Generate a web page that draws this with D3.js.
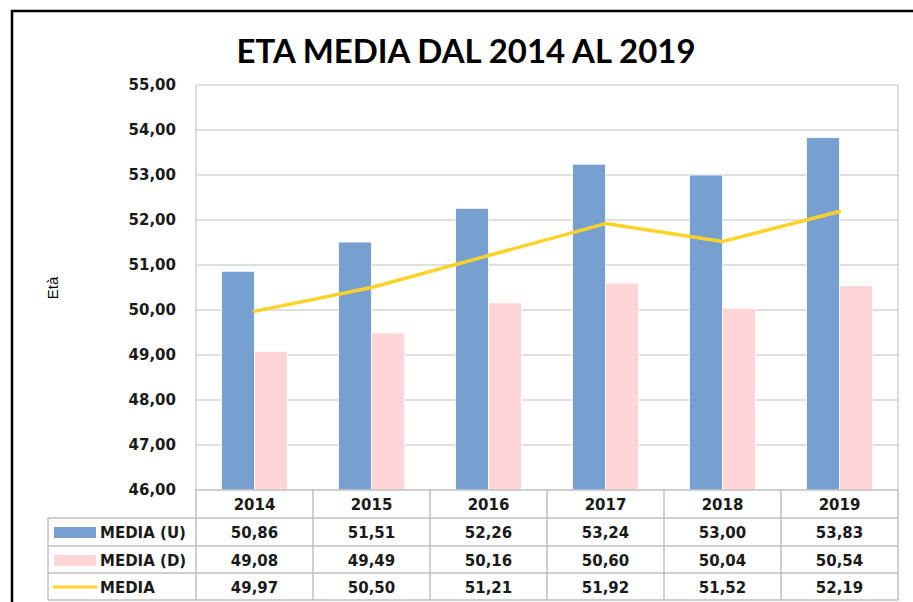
<!DOCTYPE html>
<html><head><meta charset="utf-8">
<script src="https://cdn.jsdelivr.net/npm/d3@7"></script>
<style>html,body{margin:0;padding:0;background:#fff;overflow:hidden}</style>
</head><body>
<svg id="c" width="913" height="602"></svg>
<script>
const years = ["2014","2015","2016","2017","2018","2019"];
const mediaU = [50.86, 51.51, 52.26, 53.24, 53.00, 53.83];
const mediaD = [49.08, 49.49, 50.16, 50.60, 50.04, 50.54];
const media = [49.97, 50.50, 51.21, 51.92, 51.52, 52.19];
const yTicks = [46,47,48,49,50,51,52,53,54,55];
const seriesNames = ["MEDIA (U)", "MEDIA (D)", "MEDIA"];
const title = "ETA MEDIA DAL 2014 AL 2019";
const yTitle = "Età";

const colU = "#779fcf", colD = "#ffd5d8", colM = "#fdd22a", grid = "#bfbfbf";
const fmt = v => v.toFixed(2).replace(".", ",");
const svg = d3.select("#c");

// outer frame
svg.append("rect").attr("x",12).attr("y",11).attr("width",1000).attr("height",700)
  .attr("fill","none").attr("stroke","#000").attr("stroke-width",2.5);

// title
svg.append("text").attr("x",466).attr("y",63).attr("text-anchor","middle")
  .attr("font-family","Lato, 'Open Sans', sans-serif").attr("font-weight","bold")
  .attr("font-size",32).attr("textLength",459).attr("lengthAdjust","spacingAndGlyphs")
  .attr("fill","#000").text(title);

const L = 196, R = 898, T = 85, B = 490;
const x = d3.scaleBand().domain(years).range([L, R]).padding(0);
const x1 = d3.scaleBand().domain(["U","D"]).range([0, x.bandwidth()]).paddingInner(0).paddingOuter(0.773);
const y = d3.scaleLinear().domain([46,55]).range([B, T]);

// gridlines
svg.append("g").selectAll("line").data(yTicks.filter(t=>t>46)).join("line")
  .attr("x1",L).attr("x2",R).attr("y1",d=>y(d)).attr("y2",d=>y(d))
  .attr("stroke",grid).attr("stroke-width",1.2);
// plot border sides
svg.append("line").attr("x1",L).attr("x2",L).attr("y1",T).attr("y2",B).attr("stroke","#d0d0d0").attr("stroke-width",1.5);
svg.append("line").attr("x1",R).attr("x2",R).attr("y1",T).attr("y2",B).attr("stroke","#d0d0d0").attr("stroke-width",1.5);

// y labels
const yAxis = d3.axisLeft(y).tickValues(yTicks).tickFormat(fmt).tickSize(0).tickPadding(20);
const ya = svg.append("g").attr("transform",`translate(${L},0)`).call(yAxis);
ya.select(".domain").remove();
ya.selectAll("text").attr("font-family","DejaVu Sans, Verdana, sans-serif").attr("font-weight","bold")
  .attr("font-size",15).attr("fill","#1a1a1a");

// y title
svg.append("text").attr("transform","translate(58,288) rotate(-90)").attr("text-anchor","middle")
  .attr("font-family","Liberation Sans, Arial, sans-serif").attr("font-size",15).attr("fill","#000").text(yTitle);

// bars
const g = svg.append("g");
g.selectAll("rect.u").data(mediaU).join("rect").attr("class","u")
  .attr("x",(d,i)=>x(years[i])+x1("U")).attr("width",x1.bandwidth())
  .attr("y",d=>y(d)).attr("height",d=>B-y(d)).attr("fill",colU).attr("stroke","#fff").attr("stroke-width",0.8);
g.selectAll("rect.d").data(mediaD).join("rect").attr("class","d")
  .attr("x",(d,i)=>x(years[i])+x1("D")).attr("width",x1.bandwidth())
  .attr("y",d=>y(d)).attr("height",d=>B-y(d)).attr("fill",colD).attr("stroke","#fff").attr("stroke-width",0.8);

// line
const line = d3.line().x((d,i)=>x(years[i])+x.bandwidth()/2).y(d=>y(d));
svg.append("path").datum(media).attr("d",line).attr("fill","none").attr("stroke",colM)
  .attr("stroke-width",3.5).attr("stroke-linejoin","round").attr("stroke-linecap","round");

// data table
const rowTops = [490, 518, 546, 573, 600];
const TL = 48;
const tg = svg.append("g");
const tl = (x1_,y1_,x2_,y2_)=>tg.append("line").attr("x1",x1_).attr("y1",y1_).attr("x2",x2_).attr("y2",y2_)
  .attr("stroke",grid).attr("stroke-width",1.5);
tl(L, rowTops[0], R, rowTops[0]);
for (let r=1;r<rowTops.length;r++) tl(TL, rowTops[r], R, rowTops[r]);
tl(TL, rowTops[1], TL, rowTops[4]);
years.forEach(yr=>tl(x(yr), rowTops[0], x(yr), rowTops[4]));
tl(R, rowTops[0], R, rowTops[4]);

const tFont = t=>t.attr("font-family","DejaVu Sans, Verdana, sans-serif").attr("font-weight","bold")
  .attr("font-size",15).attr("fill","#1a1a1a").attr("dominant-baseline","central");
tFont(tg.selectAll("text.yr").data(years).join("text").attr("class","yr")
  .attr("x",d=>x(d)+x.bandwidth()/2).attr("y",(rowTops[0]+rowTops[1])/2+1).attr("text-anchor","middle").text(d=>d));
[mediaU, mediaD, media].forEach((arr,r)=>{
  const cy = (rowTops[r+1]+rowTops[r+2])/2+1;
  tFont(tg.selectAll("text.v"+r).data(arr).join("text").attr("class","v"+r)
    .attr("x",(d,i)=>x(years[i])+x.bandwidth()/2).attr("y",cy).attr("text-anchor","middle").text(fmt));
  tFont(tg.append("text").attr("x",100).attr("y",cy).text(seriesNames[r]));
});
// legend keys
tg.append("rect").attr("x",54).attr("y",527).attr("width",42).attr("height",11).attr("fill",colU);
tg.append("rect").attr("x",54).attr("y",555).attr("width",42).attr("height",11).attr("fill",colD);
tg.append("line").attr("x1",54).attr("x2",96).attr("y1",587).attr("y2",587).attr("stroke",colM).attr("stroke-width",3).attr("stroke-linecap","round");
</script>
</body></html>
